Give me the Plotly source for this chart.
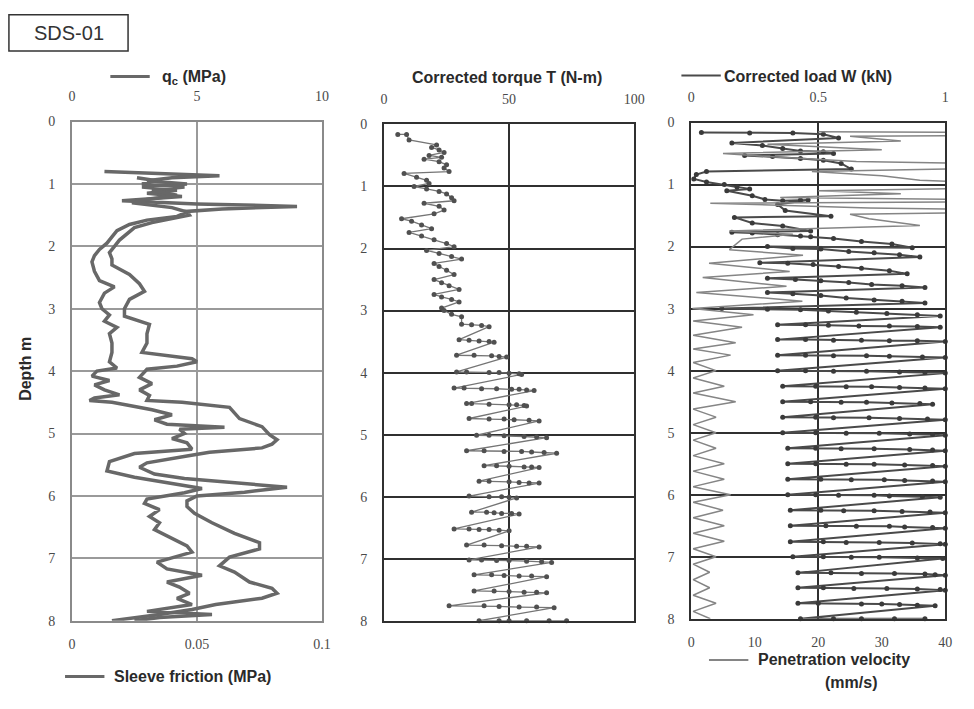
import plotly.graph_objects as go

W_PX, H_PX = 974, 709

# ---------------- Panel 1: cone resistance and sleeve friction ----------------
qc_depth = [0.80, 0.83, 0.87, 0.90, 0.95, 1.00, 1.05, 1.10, 1.15, 1.20, 1.27, 1.32, 1.36, 1.40,
            1.44, 1.50, 1.56, 1.62, 1.70, 1.80, 1.90, 2.00, 2.10, 2.20, 2.30, 2.45, 2.60, 2.72,
            2.85, 3.00, 3.12, 3.25, 3.40, 3.55, 3.70, 3.80, 3.85, 3.92, 3.97, 4.10, 4.20, 4.30,
            4.39, 4.47, 4.50, 4.58, 4.67, 4.76, 4.89, 4.94, 5.02, 5.10, 5.17, 5.23, 5.30, 5.36,
            5.47, 5.54, 5.65, 5.72, 5.78, 5.86, 5.94, 6.00, 6.08, 6.17, 6.28, 6.43, 6.60, 6.75,
            6.85, 6.98, 7.12, 7.22, 7.38, 7.48, 7.56, 7.64, 7.74, 7.82, 7.90, 8.00]
qc_mpa = [1.3, 3.5, 5.9, 4.0, 3.0, 4.6, 2.8, 4.2, 3.0, 4.4, 2.0, 5.0, 9.0, 6.0,
          4.6, 4.7, 4.0, 3.2, 2.5, 2.2, 1.9, 1.7, 1.5, 1.6, 1.6, 2.3, 2.7, 2.9,
          2.3, 2.1, 2.1, 3.1, 3.0, 3.0, 2.8, 4.8, 5.0, 4.2, 3.0, 2.7, 3.2, 2.7,
          3.1, 3.0, 4.4, 6.3, 6.5, 6.7, 7.6, 7.7, 7.9, 8.2, 8.0, 7.6, 5.5, 4.6,
          3.0, 2.7, 3.3, 4.5, 6.4, 8.6, 6.9, 5.0, 4.6, 4.6, 4.9, 5.6, 6.5, 7.5,
          7.5, 6.3, 5.9, 6.5, 7.1, 8.0, 8.2, 7.6, 5.75, 4.8, 3.5, 1.6]

fs_depth = [0.90, 0.95, 1.00, 1.05, 1.10, 1.18, 1.25, 1.30, 1.38, 1.45, 1.52, 1.58, 1.65, 1.75,
            1.85, 1.95, 2.05, 2.15, 2.25, 2.40, 2.55, 2.65, 2.75, 2.90, 3.00, 3.10, 3.20, 3.30,
            3.40, 3.55, 3.70, 3.85, 3.95, 4.00, 4.08, 4.15, 4.22, 4.30, 4.38, 4.43, 4.47, 4.50,
            4.55, 4.62, 4.70, 4.78, 4.85, 4.90, 4.93, 5.00, 5.08, 5.15, 5.25, 5.32, 5.45, 5.60,
            5.70, 5.80, 5.88, 5.95, 6.05, 6.12, 6.22, 6.33, 6.43, 6.54, 6.64, 6.80, 6.90, 7.06,
            7.17, 7.27, 7.38, 7.46, 7.56, 7.64, 7.74, 7.85, 7.90, 7.95, 8.00]
fs_mpa = [0.026, 0.034, 0.028, 0.045, 0.032, 0.042, 0.030, 0.024, 0.040, 0.046, 0.042, 0.030,
          0.023, 0.018, 0.016, 0.014, 0.011, 0.009, 0.008, 0.009, 0.011, 0.017, 0.013, 0.011,
          0.012, 0.015, 0.013, 0.018, 0.015, 0.016, 0.016, 0.015, 0.018, 0.010, 0.008, 0.015,
          0.009, 0.013, 0.019, 0.009, 0.007, 0.016, 0.023, 0.032, 0.040, 0.033, 0.038, 0.061,
          0.043, 0.045, 0.040, 0.046, 0.048, 0.025, 0.015, 0.014, 0.025, 0.040, 0.052, 0.045,
          0.030, 0.029, 0.035, 0.031, 0.035, 0.033, 0.038, 0.046, 0.048, 0.034, 0.038, 0.052,
          0.038, 0.043, 0.047, 0.042, 0.048, 0.030, 0.056, 0.035, 0.025]

# ---------------- Panel 2: corrected torque ----------------
torque_depth = [0.16, 0.16, 0.25, 0.33, 0.37, 0.41, 0.45, 0.50, 0.53, 0.56, 0.60, 0.65, 0.70, 0.76,
                0.79, 0.85, 0.90, 0.95, 1.00, 1.04, 1.08, 1.12, 1.18, 1.23, 1.27, 1.32, 1.38, 1.44,
                1.52, 1.56, 1.62, 1.68, 1.74, 1.80, 1.86, 1.92, 1.97, 2.03, 2.08, 2.13, 2.17, 2.24,
                2.29, 2.35, 2.42, 2.50, 2.55, 2.60, 2.66, 2.74, 2.78, 2.82, 2.86, 2.96, 3.00, 3.06,
                3.10,
                3.22, 3.23, 3.24, 3.26,
                3.47, 3.48, 3.49, 3.50, 3.51,
                3.72, 3.72, 3.73, 3.74, 3.75,
                3.99, 3.99, 4.00, 4.00, 4.01, 4.02, 4.03,
                4.25, 4.25, 4.26, 4.26, 4.27, 4.27, 4.28, 4.29,
                4.50, 4.50, 4.51, 4.52, 4.52, 4.53, 4.54,
                4.74, 4.75, 4.75, 4.76, 4.77, 4.78,
                5.01, 5.01, 5.02, 5.03, 5.04, 5.05,
                5.26, 5.26, 5.27, 5.27, 5.28, 5.29, 5.30,
                5.50, 5.50, 5.51, 5.52, 5.52, 5.53,
                5.75, 5.75, 5.76, 5.77, 5.78, 5.78,
                5.99, 6.00, 6.00, 6.01, 6.02,
                6.25, 6.25, 6.26, 6.27, 6.27, 6.28,
                6.52, 6.52, 6.53, 6.53, 6.54, 6.55,
                6.78, 6.78, 6.79, 6.80, 6.80, 6.81,
                7.02, 7.02, 7.03, 7.03, 7.04, 7.05, 7.06,
                7.26, 7.26, 7.27, 7.28, 7.28, 7.29,
                7.52, 7.52, 7.53, 7.54, 7.54, 7.55,
                7.76, 7.76, 7.77, 7.78, 7.78, 7.79,
                8.00, 8.00, 8.00, 8.00, 8.00, 8.00]
torque_nm = [5.5, 9, 10, 21, 19, 22, 24, 18, 23, 16, 22, 25, 24, 26,
             8, 13, 17, 18, 12, 17, 22, 25, 27, 28, 16, 22, 24, 20,
             7, 11, 15, 19, 10, 15, 20, 25, 28, 17, 22, 27, 31, 20,
             22, 25, 28, 20, 23, 26, 30, 20, 23, 27, 30, 23, 24, 27,
             31,
             31, 35, 39, 42,
             30, 34, 38, 42, 44,
             29, 36, 43, 46, 49,
             29, 33, 42, 46, 50, 54, 55,
             28, 32, 39, 45, 51, 54, 57, 60,
             33, 35, 42, 50, 53, 56, 57,
             34, 42, 48, 52, 58, 62,
             37, 42, 48, 56, 61, 65,
             33, 40, 48, 55, 59, 64, 69,
             40, 45, 50, 56, 59, 62,
             38, 42, 50, 54, 58, 62,
             34, 42, 47, 50, 53,
             35, 41, 44, 47, 51, 54,
             28, 34, 38, 42, 46, 50,
             33, 40, 47, 53, 57, 62,
             34, 39, 45, 50, 57, 63, 67,
             36, 43, 48, 54, 59, 65,
             36, 44, 50, 56, 61, 65,
             26, 40, 46, 54, 61, 68,
             38, 46, 50, 57, 66, 73]

# ---------------- Panel 3: corrected load and penetration velocity ----------------
load_depth = [0.16, 0.17, 0.17, 0.19, 0.25,
              0.33, 0.37, 0.42, 0.46, 0.47, 0.50,
              0.53, 0.55, 0.58, 0.61, 0.66, 0.75,
              0.79, 0.84, 0.91, 0.96,
              1.00, 1.04, 1.07, 1.10, 1.18, 1.24, 1.26, 1.25, 1.25,
              1.32, 1.42, 1.51,
              1.53, 1.62, 1.67, 1.75,
              1.77, 1.78, 1.81, 1.83, 1.84, 1.87, 1.92, 1.96, 2.02,
              2.00, 2.03, 2.04, 2.08, 2.10, 2.13, 2.17,
              2.26, 2.27, 2.29, 2.32, 2.35, 2.39, 2.44,
              2.51, 2.53, 2.55, 2.58, 2.61, 2.63, 2.66,
              2.74, 2.76, 2.79, 2.83, 2.86, 2.88, 2.91,
              3.00, 3.01, 3.02, 3.04, 3.06, 3.08, 3.10, 3.12,
              3.26, 3.26, 3.27, 3.28, 3.28, 3.29, 3.30,
              3.50, 3.50, 3.51, 3.51, 3.52, 3.52, 3.53,
              3.75, 3.75, 3.76, 3.76, 3.77, 3.78, 3.79,
              4.00, 4.00, 4.01, 4.01, 4.02, 4.03, 4.04,
              4.25, 4.25, 4.26, 4.26, 4.27, 4.28, 4.29,
              4.50, 4.50, 4.51, 4.51, 4.52, 4.53, 4.54,
              4.75, 4.75, 4.76, 4.76, 4.77, 4.78, 4.79,
              5.00, 5.00, 5.01, 5.01, 5.02, 5.03, 5.04,
              5.25, 5.25, 5.26, 5.26, 5.27, 5.28, 5.29,
              5.50, 5.50, 5.51, 5.51, 5.52, 5.53, 5.54,
              5.75, 5.75, 5.76, 5.76, 5.77, 5.78, 5.79,
              6.00, 6.00, 6.01, 6.01, 6.02, 6.03, 6.04,
              6.25, 6.25, 6.26, 6.26, 6.27, 6.28, 6.29,
              6.50, 6.50, 6.51, 6.51, 6.52, 6.53, 6.54,
              6.76, 6.76, 6.77, 6.77, 6.78, 6.79, 6.80,
              7.00, 7.00, 7.01, 7.01, 7.02, 7.03,
              7.26, 7.26, 7.27, 7.27, 7.28, 7.29, 7.30,
              7.50, 7.50, 7.51, 7.51, 7.52, 7.53, 7.54,
              7.75, 7.75, 7.76, 7.76, 7.77, 7.78, 7.79,
              8.00, 8.00, 8.00, 8.00, 8.00]
load_kn = [0.04, 0.23, 0.40, 0.52, 0.58,
           0.16, 0.28, 0.36, 0.43, 0.52, 0.56,
           0.21, 0.32, 0.43, 0.52, 0.59, 0.63,
           0.06, 0.02, 0.01, 0.06,
           0.13, 0.18, 0.23, 0.14, 0.24, 0.29, 0.36, 0.43, 0.46,
           0.34, 0.37, 0.55,
           0.17, 0.24, 0.36, 0.47,
           0.16, 0.24, 0.34, 0.43, 0.47, 0.56, 0.67, 0.79, 0.87,
           0.30, 0.40, 0.51, 0.62, 0.72, 0.82, 0.90,
           0.27, 0.38, 0.48, 0.58, 0.67, 0.78, 0.85,
           0.30, 0.41, 0.51, 0.62, 0.71, 0.83, 0.92,
           0.30, 0.40, 0.51, 0.61, 0.72, 0.83, 0.92,
           0.12, 0.30, 0.43, 0.54, 0.65, 0.77, 0.89, 0.98,
           0.34, 0.45, 0.54, 0.66, 0.78, 0.89, 0.98,
           0.34, 0.45, 0.56, 0.67, 0.78, 0.89, 1.00,
           0.34, 0.45, 0.56, 0.69, 0.78, 0.91, 1.00,
           0.34, 0.45, 0.56, 0.69, 0.82, 0.92, 1.00,
           0.36, 0.49, 0.61, 0.71, 0.82, 0.92, 1.00,
           0.36, 0.47, 0.59, 0.69, 0.79, 0.90, 0.95,
           0.36, 0.49, 0.56, 0.70, 0.82, 0.93, 1.00,
           0.36, 0.49, 0.61, 0.74, 0.86, 0.95, 1.00,
           0.38, 0.49, 0.59, 0.72, 0.86, 0.95, 1.00,
           0.38, 0.49, 0.61, 0.72, 0.84, 0.95, 1.00,
           0.38, 0.51, 0.63, 0.76, 0.84, 0.95, 1.00,
           0.38, 0.49, 0.58, 0.72, 0.78, 0.91, 0.98,
           0.39, 0.51, 0.60, 0.72, 0.83, 0.94, 1.00,
           0.39, 0.53, 0.65, 0.78, 0.84, 0.95, 1.00,
           0.39, 0.52, 0.61, 0.74, 0.87, 0.98, 1.00,
           0.40, 0.52, 0.63, 0.74, 0.89, 0.99,
           0.42, 0.55, 0.67, 0.80, 0.92, 0.96, 1.00,
           0.42, 0.52, 0.64, 0.77, 0.89, 0.98, 1.00,
           0.42, 0.50, 0.67, 0.75, 0.82, 0.89, 0.96,
           0.43, 0.56, 0.67, 0.80, 0.92]

velocity_depth = [0.15, 0.16, 0.21, 0.22, 0.30, 0.35, 0.44, 0.50, 0.56, 0.63, 0.66, 0.74, 0.79,
                  0.86, 0.93, 0.97, 1.06, 1.10, 1.15, 1.21, 1.24, 1.28, 1.30, 1.38, 1.40, 1.45,
                  1.48, 1.55, 1.66, 1.75, 1.80, 1.88, 2.05, 2.14, 2.27, 2.40, 2.50, 2.64, 2.74,
                  2.88, 3.00, 3.10, 3.20, 3.30, 3.43, 3.55, 3.65, 3.75, 3.87, 4.00, 4.12, 4.25,
                  4.36, 4.50, 4.62, 4.75, 4.87, 5.00, 5.12, 5.25, 5.37, 5.50, 5.62, 5.75, 5.87,
                  6.00, 6.12, 6.25, 6.37, 6.50, 6.62, 6.75, 6.87, 7.00, 7.12, 7.25, 7.37, 7.50,
                  7.62, 7.75, 7.88, 8.00]
velocity_mms = [20, 45, 45, 25, 33, 12, 30, 5, 14, 26, 45, 45, 19,
                30, 36, 45, 45, 20, 33, 14, 45, 45, 3, 28, 45, 45,
                25, 28, 36, 6, 16, 8, 6, 17.6, 2.8, 15.5, 1.8, 15, 0.8,
                17.5, 0.2, 9.8, 0.3, 8, 0.3, 7, 0.3, 6.2, 0.3, 3.9, 0.3, 5.2,
                0.3, 7.0, 0.3, 3.9, 0.3, 3.9, 0.3, 3.9, 0.3, 5.2, 0.3, 5.2, 0.3,
                6.2, 0.3, 5.0, 0.3, 5.2, 0.3, 5.2, 0.3, 3.9, 0.3, 2.9, 0.3, 2.9,
                0.3, 3.9, 0.3, 3.0]

depth_ticks = [0, 1, 2, 3, 4, 5, 6, 7, 8]


def px(x):
    return x / W_PX


def py(y):
    return 1 - y / H_PX


TICK_FONT = dict(family="Liberation Serif", size=14, color="#4a4a4a")
LABEL_FONT = dict(family="Liberation Sans", size=16, color="#2a2a2a")

fig = go.Figure()

fig.add_trace(go.Scatter(x=qc_mpa, y=qc_depth, xaxis="x", yaxis="y", mode="lines",
                         line=dict(color="#686868", width=3.5), name="qc (MPa)"))
fig.add_trace(go.Scatter(x=fs_mpa, y=fs_depth, xaxis="x2", yaxis="y", mode="lines",
                         line=dict(color="#686868", width=3.5), name="Sleeve friction (MPa)"))
fig.add_trace(go.Scatter(x=torque_nm, y=torque_depth, xaxis="x3", yaxis="y2", mode="lines+markers",
                         line=dict(color="#757575", width=1.3),
                         marker=dict(color="#505050", size=5), cliponaxis=False,
                         name="Corrected torque T (N-m)"))
fig.add_trace(go.Scatter(x=velocity_mms, y=velocity_depth, xaxis="x5", yaxis="y3", mode="lines",
                         line=dict(color="#858585", width=1.5), name="Penetration velocity (mm/s)"))
fig.add_trace(go.Scatter(x=load_kn, y=load_depth, xaxis="x4", yaxis="y3", mode="lines+markers",
                         line=dict(color="#4a4a4a", width=2),
                         marker=dict(color="#3a3a3a", size=5), cliponaxis=False,
                         name="Corrected load W (kN)"))

panels = [
    # (x left, x right, y top, y bottom) in pixels
    (69, 323, 117, 627),
    (386, 640, 120, 627),
    (698, 956, 118, 625),
]


def yaxis_cfg(p, anchor, grid_color, line_color):
    l, r, t, b = p
    return dict(domain=[py(b), py(t)], anchor=anchor, range=[8, 0], tickvals=depth_ticks,
                showgrid=True, gridcolor=grid_color, gridwidth=1.6,
                showline=True, linecolor=line_color, linewidth=2, mirror=True,
                zeroline=False, ticks="", tickfont=TICK_FONT, ticklabelstandoff=12)


p1, p2, p3 = panels
fig.update_layout(
    width=W_PX, height=H_PX,
    margin=dict(l=0, r=0, t=0, b=0),
    paper_bgcolor="white", plot_bgcolor="white",
    showlegend=False,
    xaxis=dict(domain=[px(p1[0]), px(p1[1])], anchor="y", side="top", range=[0, 10],
               tickvals=[0, 5, 10], showgrid=True, gridcolor="#9a9a9a", gridwidth=1.6,
               showline=True, linecolor="#8a8a8a", linewidth=2, mirror=True, zeroline=False,
               tickfont=TICK_FONT, ticklabelstandoff=13),
    xaxis2=dict(overlaying="x", anchor="y", side="bottom", range=[0, 0.1],
                tickvals=[0, 0.05, 0.1], ticktext=["0", "0.05", "0.1"], showgrid=False,
                zeroline=False, showline=False, tickfont=TICK_FONT, ticklabelstandoff=13),
    yaxis=yaxis_cfg(p1, "x", "#9a9a9a", "#8a8a8a"),
    xaxis3=dict(domain=[px(p2[0]), px(p2[1])], anchor="y2", side="top", range=[0, 100],
                tickvals=[0, 50, 100], showgrid=True, gridcolor="#303030", gridwidth=1.8,
                showline=True, linecolor="#303030", linewidth=2, mirror=True, zeroline=False,
                tickfont=TICK_FONT, ticklabelstandoff=13),
    yaxis2=yaxis_cfg(p2, "x3", "#303030", "#303030"),
    xaxis4=dict(domain=[px(p3[0]), px(p3[1])], anchor="y3", side="top", range=[0, 1],
                tickvals=[0, 0.5, 1], ticktext=["0", "0.5", "1"], showgrid=True,
                gridcolor="#303030", gridwidth=1.8, showline=True, linecolor="#303030",
                linewidth=2, mirror=True, zeroline=False, tickfont=TICK_FONT,
                ticklabelstandoff=13),
    xaxis5=dict(overlaying="x4", anchor="y3", side="bottom", range=[0, 40],
                tickvals=[0, 10, 20, 30, 40], showgrid=False, zeroline=False,
                showline=False, tickfont=TICK_FONT, ticklabelstandoff=13),
    yaxis3=yaxis_cfg(p3, "x4", "#303030", "#303030"),
)

annotations = [
    dict(x=px(66), y=py(27), text="SDS-01",
         font=dict(family="Liberation Sans", size=20, color="#333333")),
    dict(x=px(158), y=py(72), text="<b>q<sub>c</sub> (MPa)</b>", xanchor="left", font=LABEL_FONT),
    dict(x=px(110), y=py(684), text="<b>Sleeve friction (MPa)</b>", xanchor="left", font=LABEL_FONT),
    dict(x=px(511), y=py(72), text="<b>Corrected torque T (N-m)</b>", font=LABEL_FONT),
    dict(x=px(729), y=py(71), text="<b>Corrected load W (kN)</b>", xanchor="left", font=LABEL_FONT),
    dict(x=px(764), y=py(667), text="<b>Penetration velocity</b>", xanchor="left", font=LABEL_FONT),
    dict(x=px(860), y=py(690), text="<b>(mm/s)</b>", font=LABEL_FONT),
    dict(x=px(22), y=py(370), text="<b>Depth m</b>", textangle=-90, font=LABEL_FONT),
]
for a in annotations:
    a.update(xref="paper", yref="paper", showarrow=False)
    a.setdefault("xanchor", "center")
    a["yanchor"] = "middle"
fig.update_layout(annotations=annotations)

# title box and legend key strokes beside the axis captions
shapes = [
    dict(type="rect", x0=px(5), x1=px(126), y0=py(45), y1=py(8),
         line=dict(color="#333333", width=1.5)),
    dict(type="line", x0=px(108), x1=px(148), y0=py(71), y1=py(71),
         line=dict(color="#686868", width=3)),
    dict(type="line", x0=px(62), x1=px(102), y0=py(684), y1=py(684),
         line=dict(color="#686868", width=3)),
    dict(type="line", x0=px(688), x1=px(728), y0=py(70), y1=py(70),
         line=dict(color="#4a4a4a", width=2)),
    dict(type="line", x0=px(716), x1=px(756), y0=py(667), y1=py(667),
         line=dict(color="#858585", width=2)),
]
for s in shapes:
    s.update(xref="paper", yref="paper")
fig.update_layout(shapes=shapes)

fig.write_html("out.html")
